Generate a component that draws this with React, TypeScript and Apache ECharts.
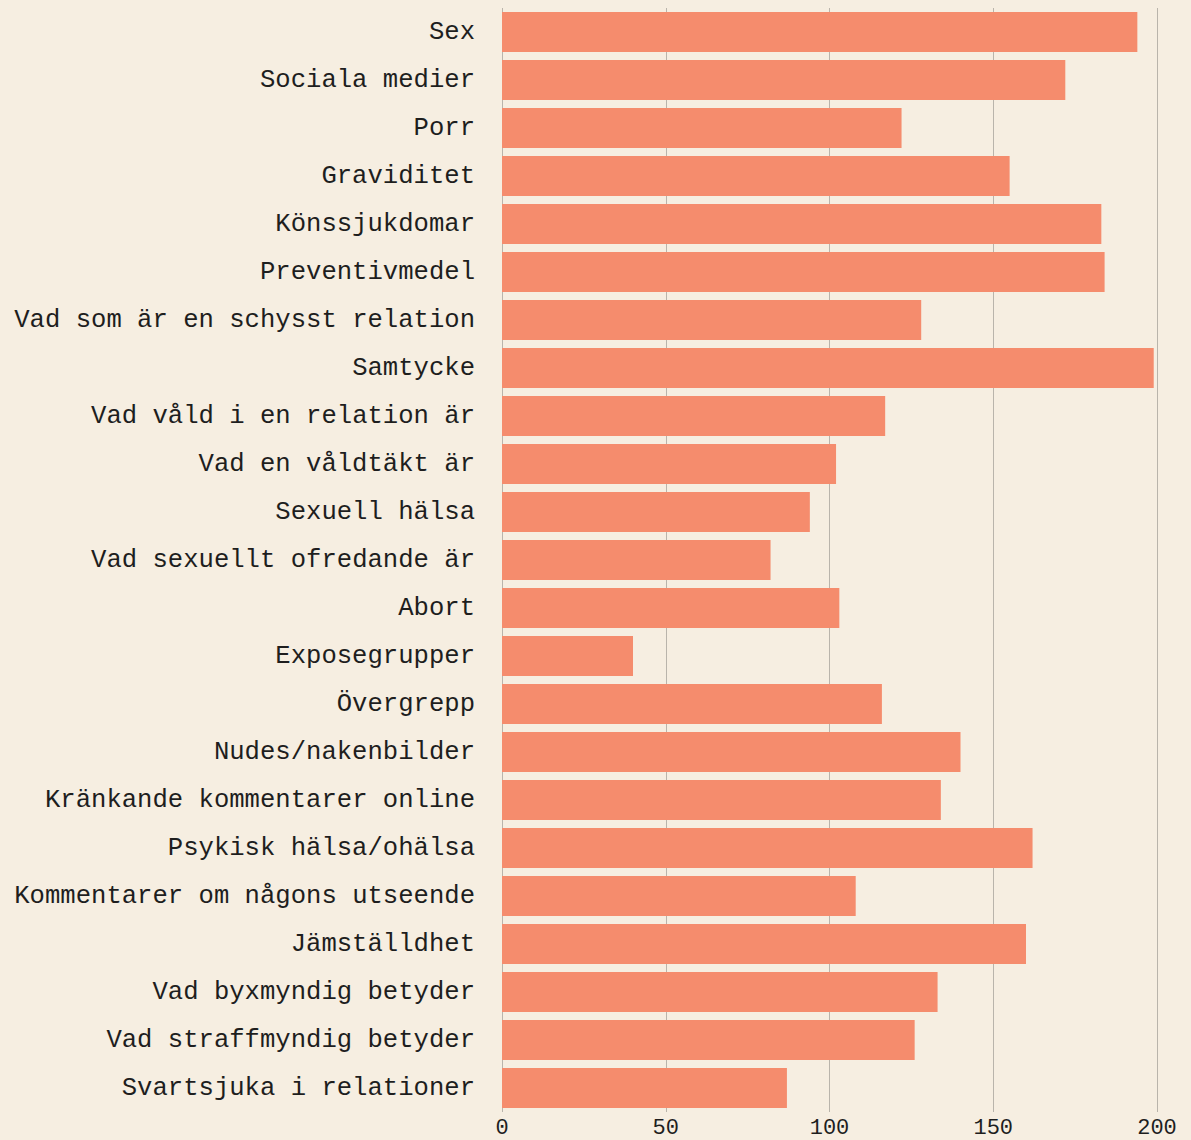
import React, { useEffect, useRef } from "react";
import * as echarts from "echarts";

const categories = [
  "Sex",
  "Sociala medier",
  "Porr",
  "Graviditet",
  "Könssjukdomar",
  "Preventivmedel",
  "Vad som är en schysst relation",
  "Samtycke",
  "Vad våld i en relation är",
  "Vad en våldtäkt är",
  "Sexuell hälsa",
  "Vad sexuellt ofredande är",
  "Abort",
  "Exposegrupper",
  "Övergrepp",
  "Nudes/nakenbilder",
  "Kränkande kommentarer online",
  "Psykisk hälsa/ohälsa",
  "Kommentarer om någons utseende",
  "Jämställdhet",
  "Vad byxmyndig betyder",
  "Vad straffmyndig betyder",
  "Svartsjuka i relationer",
];

const values = [
  194, 172, 122, 155, 183, 184, 128, 199, 117, 102, 94, 82, 103, 40, 116, 140,
  134, 162, 108, 160, 133, 126, 87,
];

const xTicks = [0, 50, 100, 150, 200];

export default function App() {
  const ref = useRef<HTMLDivElement>(null);
  useEffect(() => {
    if (!ref.current) return;
    const chart = echarts.init(ref.current, null, { renderer: "svg" });
    const font = "'Liberation Mono', 'DejaVu Sans Mono', monospace";
    chart.setOption({
      animation: false,
      backgroundColor: "#f6eee1",
      grid: { left: 502, right: 34, top: 8, bottom: 28, containLabel: false },
      xAxis: {
        type: "value",
        min: xTicks[0],
        max: xTicks[xTicks.length - 1],
        interval: 50,
        axisLine: { show: false },
        axisTick: { show: false },
        splitLine: { show: true, lineStyle: { color: "#b9b4ab", width: 1 } },
        axisLabel: {
          color: "#1e1e1e",
          fontFamily: font,
          fontSize: 22,
          margin: 5,
        },
      },
      yAxis: {
        type: "category",
        data: categories,
        inverse: true,
        axisLine: { show: false },
        axisTick: { show: false },
        axisLabel: {
          color: "#1e1e1e",
          fontFamily: font,
          fontSize: 25.6,
          margin: 27,
          padding: [4, 0, 0, 0],
        },
      },
      series: [
        {
          type: "bar",
          data: values,
          barCategoryGap: "16.67%",
          itemStyle: { color: "#f58c6d" },
        },
      ],
    });
    return () => chart.dispose();
  }, []);
  return (
    <div
      ref={ref}
      style={{ position: "absolute", left: 0, top: 0, width: 1191, height: 1140 }}
    />
  );
}
